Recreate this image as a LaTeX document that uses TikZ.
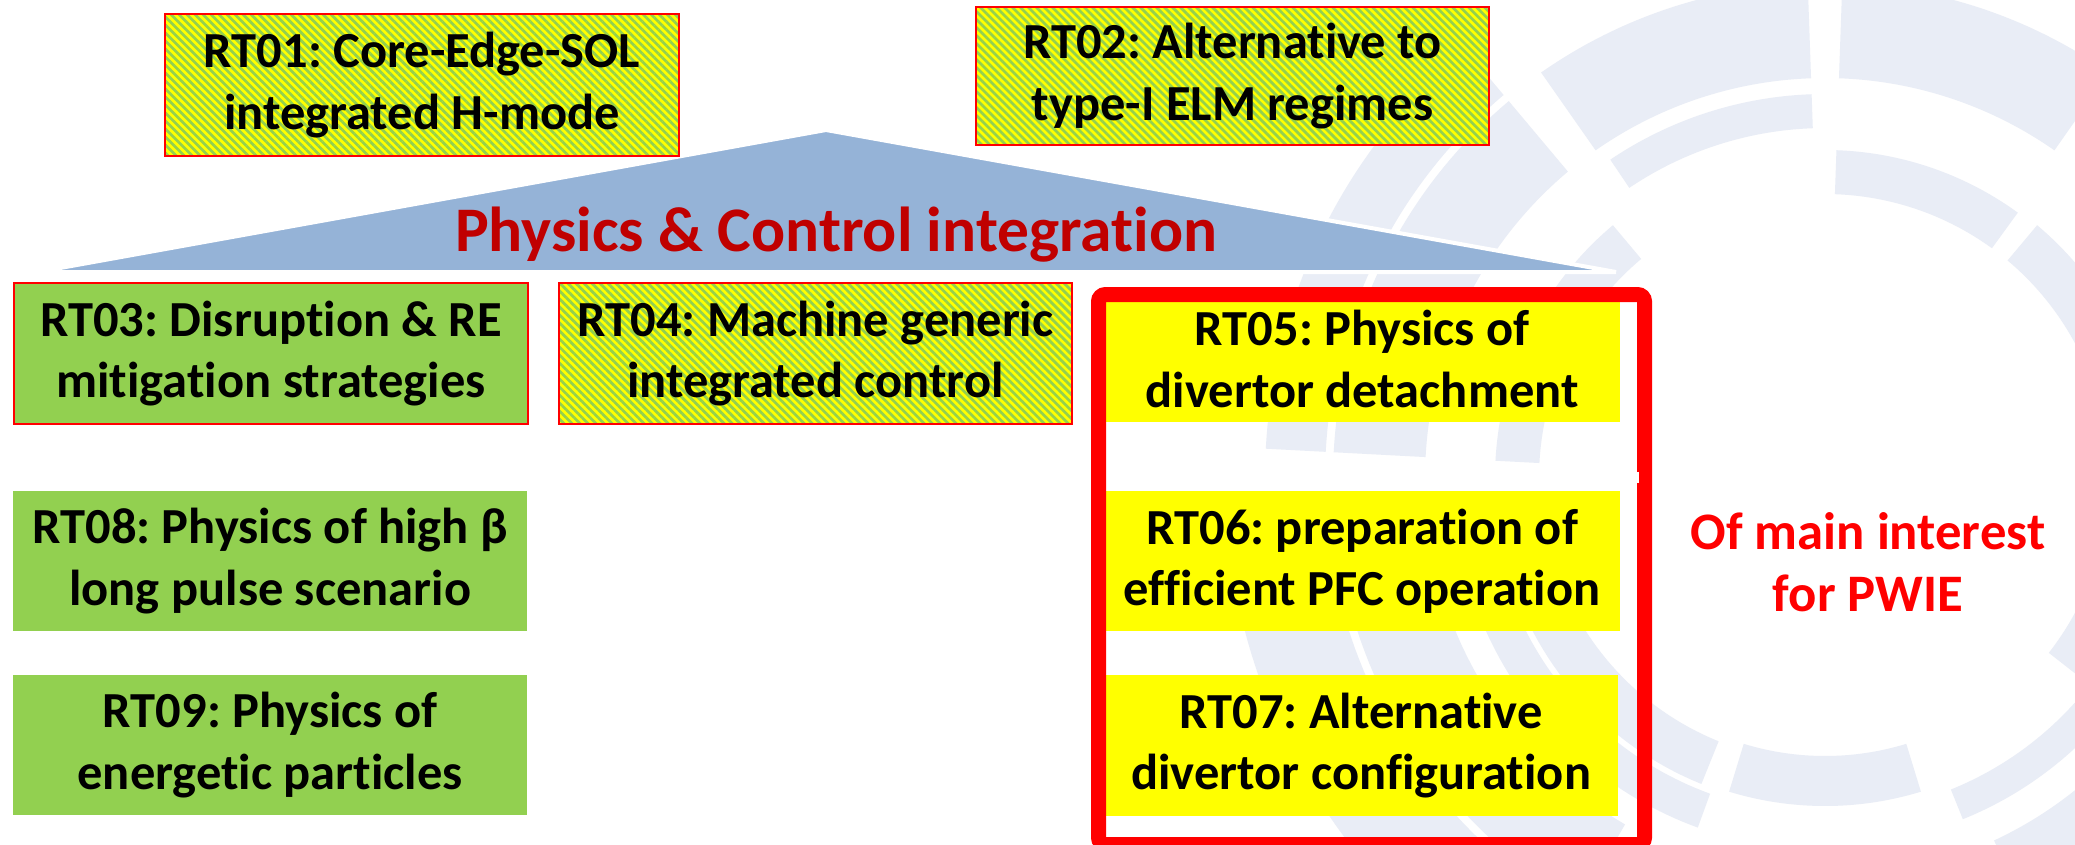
\documentclass[tikz,border=0pt]{standalone}
\usepackage{fontspec}
\setmainfont{Carlito}[Ligatures=CommonOff]
\usetikzlibrary{patterns.meta}
\definecolor{boxyellow}{HTML}{FFFF00}
\definecolor{boxgreen}{HTML}{92D050}
\definecolor{boxred}{HTML}{FF0000}
\definecolor{tricol}{HTML}{95B3D7}
\definecolor{titlered}{HTML}{C00000}
\definecolor{wmcol}{HTML}{E9EDF6}
\newcommand\wmseg[4]{\fill[wmcol] plot[domain=-#1:-#2,samples=40] (\x:#3) -- plot[domain=-#2:-#1,samples=40] (\x:#4) -- cycle;}
\frenchspacing
\begin{document}
\begin{tikzpicture}[x=1pt,y=-1pt,
  rtbox/.style={anchor=north west, inner sep=0pt, align=center, text=black,
    font=\fontsize{50.5}{61.5}\selectfont\bfseries},
  hatched/.style={preaction={fill=boxyellow},
    pattern={Lines[angle=-45,distance=5.66pt,line width=2.7pt]}, pattern color=boxgreen},
  redline/.style={draw=boxred, line width=2pt},
  greenbox/.style={fill=boxgreen},
  yellowbox/.style={fill=boxyellow},
  titletext/.style={anchor=base, inner sep=0pt, text=titlered,
    font=\fontsize{63.5}{76}\selectfont\bfseries},
  pwietext/.style={anchor=base, inner sep=0pt, text=boxred,
    font=\fontsize{52.7}{63}\selectfont\bfseries}]
\useasboundingbox (0,0) rectangle (2075,844);
\fill[white] (0,0) rectangle (2075,844);
% watermark
\begin{scope}
\clip (0,0) rectangle (2075,844);
\begin{scope}[shift={(1825,478)}]
\wmseg{2}{50}{284}{330}
\wmseg{54}{88}{284}{328}
\wmseg{130}{177}{286}{330}
\wmseg{183}{248}{284}{330}
\wmseg{253}{287}{278}{328}
\wmseg{322}{357}{284}{330}
\wmseg{92}{124}{350}{384}
\wmseg{200}{250}{336}{372}
\wmseg{292}{318}{336}{368}
\wmseg{55}{88}{400}{495}
\wmseg{92}{125}{400}{495}
\wmseg{130}{177}{400}{492}
\wmseg{183}{240}{400}{492}
\wmseg{295}{340}{400}{495}
\wmseg{130}{177}{500}{560}
\wmseg{183}{238}{500}{600}
\end{scope}
\end{scope}
% triangle
\fill[tricol, draw=white, line width=4pt] (38,272) -- (826,130) -- (1616,272) -- cycle;
\node[titletext] (title) at (836,251) {Physics \& Control integration};
% boxes
\node[rtbox, hatched, redline, minimum width=514pt, minimum height=142pt] (rt01) at (164,13) {RT01: Core-Edge-SOL\\integrated H-mode};
\node[rtbox, hatched, redline, minimum width=513pt, minimum height=138pt] (rt02) at (975,6) {RT02: Alternative to\\type-I ELM regimes};
\node[rtbox, greenbox, redline, minimum width=514pt, minimum height=141pt] (rt03) at (13,282) {RT03: Disruption \& RE\\mitigation strategies};
\node[rtbox, hatched, redline, minimum width=513pt, minimum height=141pt] (rt04) at (558,282) {RT04: Machine generic\\integrated control};
\node[rtbox, yellowbox, minimum width=516pt, minimum height=126pt] (rt05) at (1104,296) {RT05: Physics of\\divertor detachment};
\node[rtbox, yellowbox, minimum width=516pt, minimum height=140pt] (rt06) at (1104,491) {RT06: preparation of\\efficient PFC operation};
\node[rtbox, yellowbox, minimum width=514pt, minimum height=141pt] (rt07) at (1104,675) {RT07: Alternative\\divertor configuration};
\node[rtbox, greenbox, minimum width=514pt, minimum height=140pt] (rt08) at (13,491) {RT08: Physics of high β\\long pulse scenario};
\node[rtbox, greenbox, minimum width=514pt, minimum height=140pt] (rt09) at (13,675) {RT09: Physics of\\energetic particles};
% red frame
\node[anchor=north west, draw=boxred, line width=15pt, rounded corners=7pt, inner sep=0pt,
  minimum width=546pt, minimum height=550pt] (pwiebox) at (1091,287) {};
\fill[white] (1627,472) rectangle (1639,483);
\node[pwietext] (pwie1) at (1868,549) {Of main interest};
\node[pwietext] (pwie2) at (1868,611) {for PWIE};
\end{tikzpicture}
\end{document}
